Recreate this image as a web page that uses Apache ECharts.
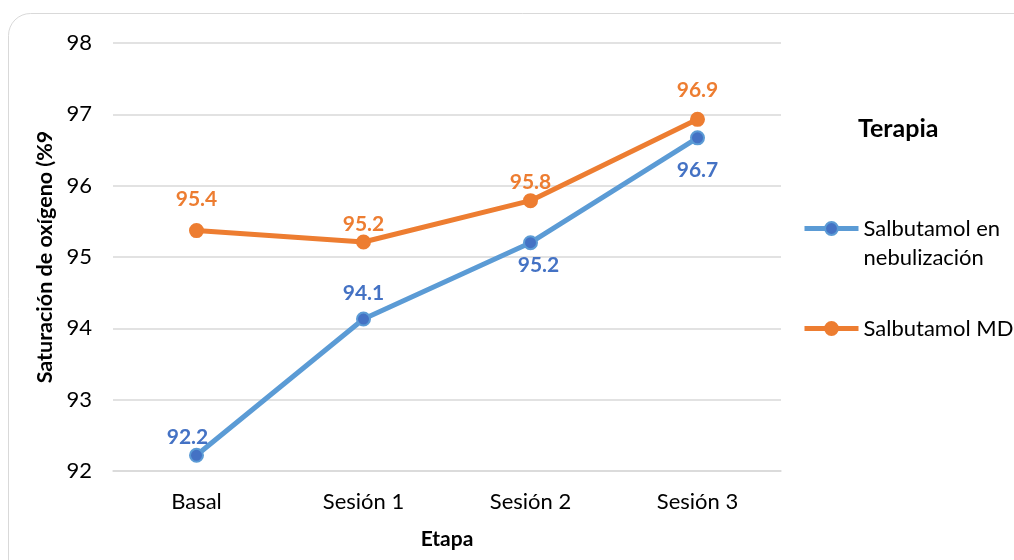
<!DOCTYPE html>
<html lang="es">
<head>
<meta charset="UTF-8">
<title>Saturación de oxígeno</title>
<style>
  html, body { margin: 0; padding: 0; background: #fff; }
  #chart { width: 1014px; height: 560px; }
</style>
</head>
<body>
<div id="chart"></div>
<script src="https://cdn.jsdelivr.net/npm/echarts@6/dist/echarts.min.js"></script>
<script>
// datos
const etapas = ['Basal', 'Sesión 1', 'Sesión 2', 'Sesión 3'];
const nebulizacion = [92.22, 94.13, 95.2, 96.67];
const mdi = [95.37, 95.21, 95.79, 96.93];
const serieNombres = ['Salbutamol en nebulización', 'Salbutamol MDI'];

const FONT = 'Lato';
const azul = '#5B9BD5', azulOsc = '#4472C4', naranja = '#ED7D31';

// colocación de etiquetas (solo estilo)
const posAzul = ['top', 'top', 'bottom', 'bottom'];
const distAzul = [0, 8, 5, 14];
const dxAzul = [-9, 0, 8, 0];
const distNaranja = [13, 0, 0, 11];

const chart = echarts.init(document.getElementById('chart'));

chart.setOption({
  backgroundColor: '#fff',
  textStyle: { fontFamily: FONT },
  animation: false,
  graphic: [{
    type: 'rect',
    shape: { x: 8.5, y: 13.5, width: 1040, height: 580, r: 22 },
    style: { fill: 'none', stroke: '#d9d9d9', lineWidth: 1 },
    silent: true
  }, {
    type: 'text',
    left: 858, top: 116,
    style: { text: 'Terapia', font: 'bold 25px ' + FONT, fill: '#000' }
  }],
  grid: { left: 113, right: 233, top: 43, bottom: 89 },
  legend: {
    orient: 'vertical',
    left: 802, top: 185,
    padding: 0,
    itemWidth: 54, itemHeight: 16,
    itemGap: 42,
    lineStyle: { width: 5 },
    textStyle: { fontSize: 22, color: '#000', fontFamily: FONT, lineHeight: 29 },
    // línea vacía arriba para que el icono quede a la altura de la primera línea
    formatter: n => n === serieNombres[0] ? ' \nSalbutamol en\nnebulización' : n,
    data: serieNombres
  },
  xAxis: {
    type: 'category',
    data: etapas,
    name: 'Etapa',
    nameLocation: 'middle',
    nameGap: 58,
    nameTextStyle: { fontSize: 21, fontWeight: 'bold', color: '#000' },
    axisTick: { show: false },
    axisLine: { lineStyle: { color: '#d9d9d9', width: 1.5 } },
    axisLabel: { fontSize: 22, color: '#000', margin: 20 }
  },
  yAxis: {
    type: 'value',
    min: 92, max: 98, interval: 1,
    name: 'Saturación de oxígeno (%9',
    nameLocation: 'middle',
    nameGap: 56,
    nameTextStyle: { fontSize: 21.5, fontWeight: 'bold', color: '#000' },
    axisLine: { show: false },
    axisTick: { show: false },
    axisLabel: { fontSize: 22, color: '#000', margin: 21 },
    splitLine: { lineStyle: { color: '#d9d9d9', width: 1.5 } }
  },
  series: [{
    name: serieNombres[0],
    type: 'line',
    data: nebulizacion.map((v, i) => ({
      value: v,
      label: { position: posAzul[i], distance: distAzul[i], offset: [dxAzul[i], 0] }
    })),
    lineStyle: { color: azul, width: 5 },
    itemStyle: { color: azulOsc, borderColor: azul, borderWidth: 2 },
    symbol: 'circle', symbolSize: 13,
    label: {
      show: true, fontSize: 21, fontWeight: 'bold', color: azulOsc,
      formatter: p => p.value.toFixed(1)
    },
    z: 2
  }, {
    name: serieNombres[1],
    type: 'line',
    data: mdi.map((v, i) => ({
      value: v,
      label: { distance: distNaranja[i] }
    })),
    lineStyle: { color: naranja, width: 5 },
    itemStyle: { color: naranja, borderColor: naranja, borderWidth: 2 },
    symbol: 'circle', symbolSize: 13,
    label: {
      show: true, position: 'top', fontSize: 21, fontWeight: 'bold', color: naranja,
      formatter: p => p.value.toFixed(1)
    },
    z: 3
  }]
});
</script>
</body>
</html>
